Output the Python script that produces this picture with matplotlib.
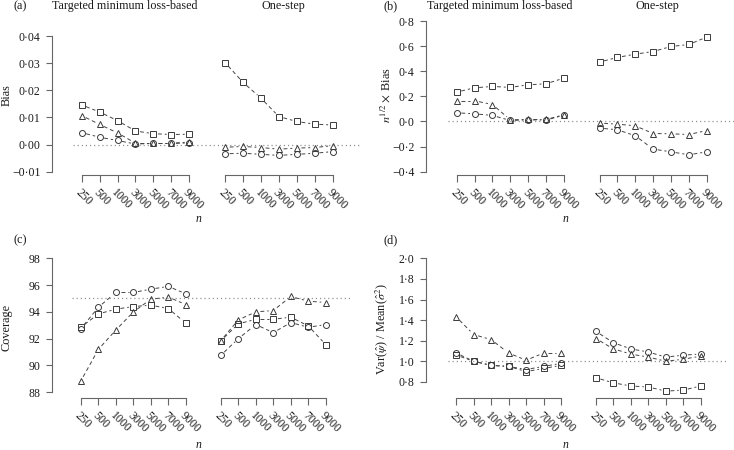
import matplotlib
matplotlib.use("Agg")
import matplotlib.pyplot as plt
import numpy as np
from matplotlib.transforms import blended_transform_factory

plt.rcParams["font.family"] = ["Liberation Serif", "DejaVu Serif"]
plt.rcParams["mathtext.fontset"] = "stix"
plt.rcParams["font.size"] = 8.5

# ---------------- data ----------------
n_labels = ["250", "500", "1000", "3000", "5000", "7000", "9000"]
group_titles = ["Targeted minimum loss-based", "One-step"]

# (a) Bias
bias_tmle_cir = [0.0044, 0.0027, 0.0015, 0.0002, 0.0004, 0.0004, 0.0006]
bias_tmle_tri = [0.0107, 0.0074, 0.0043, 0.0005, 0.0005, 0.0005, 0.0009]
bias_tmle_sq = [0.0146, 0.0120, 0.0088, 0.0050, 0.0040, 0.0037, 0.0038]
bias_os_cir = [-0.0034, -0.0032, -0.0036, -0.0040, -0.0036, -0.0032, -0.0026]
bias_os_tri = [-0.0010, -0.0007, -0.0011, -0.0017, -0.0013, -0.0011, -0.0004]
bias_os_sq = [0.0302, 0.0229, 0.0171, 0.0103, 0.0085, 0.0075, 0.0072]

# (b) sqrt(n) x Bias
sbias_tmle_cir = [0.069, 0.061, 0.048, 0.008, 0.013, 0.011, 0.050]
sbias_tmle_tri = [0.165, 0.165, 0.135, 0.013, 0.016, 0.016, 0.053]
sbias_tmle_sq = [0.234, 0.268, 0.279, 0.271, 0.292, 0.300, 0.345]
sbias_os_cir = [-0.053, -0.066, -0.114, -0.220, -0.242, -0.265, -0.242]
sbias_os_tri = [-0.013, -0.021, -0.035, -0.096, -0.098, -0.104, -0.072]
sbias_os_sq = [0.473, 0.510, 0.536, 0.557, 0.597, 0.613, 0.672]

# (c) Coverage
cov_tmle_cir = [92.75, 94.35, 95.45, 95.45, 95.70, 95.90, 95.35]
cov_tmle_tri = [88.85, 91.20, 92.65, 94.00, 94.95, 95.10, 94.55]
cov_tmle_sq = [92.85, 93.85, 94.20, 94.40, 94.50, 94.25, 93.15]
cov_os_cir = [90.75, 92.00, 93.05, 92.45, 93.20, 92.85, 93.05]
cov_os_tri = [91.85, 93.40, 94.00, 94.10, 95.15, 94.80, 94.70]
cov_os_sq = [91.85, 93.10, 93.45, 93.45, 93.60, 92.95, 91.55]

# (d) Var / Mean(sigma^2)
vr_tmle_cir = [1.08, 1.00, 0.96, 0.95, 0.92, 0.95, 0.98]
vr_tmle_tri = [1.43, 1.26, 1.21, 1.08, 1.01, 1.08, 1.08]
vr_tmle_sq = [1.06, 1.00, 0.96, 0.95, 0.90, 0.93, 0.96]
vr_os_cir = [1.29, 1.18, 1.12, 1.09, 1.04, 1.06, 1.07]
vr_os_tri = [1.22, 1.12, 1.07, 1.04, 1.00, 1.02, 1.05]
vr_os_sq = [0.84, 0.79, 0.76, 0.75, 0.71, 0.72, 0.76]

yt_a = [-0.01, 0.0, 0.01, 0.02, 0.03, 0.04]
yl_a = ["\u22120\u00b701", "0\u00b700", "0\u00b701", "0\u00b702", "0\u00b703", "0\u00b704"]
yt_b = [-0.4, -0.2, 0.0, 0.2, 0.4, 0.6, 0.8]
yl_b = ["\u22120\u00b74", "\u22120\u00b72", "0\u00b70", "0\u00b72", "0\u00b74", "0\u00b76", "0\u00b78"]
yt_c = [88, 90, 92, 94, 96, 98]
yl_c = ["88", "90", "92", "94", "96", "98"]
yt_d = [0.8, 1.0, 1.2, 1.4, 1.6, 1.8, 2.0]
yl_d = ["0\u00b78", "1\u00b70", "1\u00b72", "1\u00b74", "1\u00b76", "1\u00b78", "2\u00b70"]

# ---------------- style ----------------
W, H = 734, 450
PX = 0.72  # points per pixel at dpi 100
AXC = "#666666"
TXC = "#1a1a1a"
LC = "#444444"
MC = "#3a3a3a"
GAP = 4.6  # px gap around points (type = "b")

fig = plt.figure(figsize=(W / 100, H / 100), dpi=100)


def add_px_axes(left, right, top, bottom):
    return fig.add_axes([left / W, 1 - bottom / H, (right - left) / W, (bottom - top) / H])


x1 = np.arange(1, len(n_labels) + 1)
x2 = x1 + len(n_labels) + 1


def type_b(ax, xs, ys, marker, ms):
    pts = ax.transData.transform(np.column_stack([xs, ys]))
    inv = ax.transData.inverted()
    for p0, p1 in zip(pts[:-1], pts[1:]):
        d = p1 - p0
        L = np.hypot(d[0], d[1])
        if L <= 2 * GAP + 1:
            continue
        u = d / L
        q = inv.transform(np.vstack([p0 + u * GAP, p1 - u * GAP]))
        ax.plot(q[:, 0], q[:, 1], color=LC, lw=0.7, dashes=(4, 3),
                dash_capstyle="butt", solid_capstyle="butt")
    ax.plot(xs, ys, ls="none", marker=marker, ms=ms, mfc="none", mec=MC, mew=0.7)


panels = [
    dict(reg=(72.7, 359.6, 15, 175), ylim=(-0.01122, 0.04774), yt=yt_a, yl=yl_a, off=20.7,
         ref=0.0, series=[(bias_tmle_cir, bias_os_cir), (bias_tmle_tri, bias_os_tri), (bias_tmle_sq, bias_os_sq)],
         ylabel="Bias", ylab_pos=(6.5, 95), letter="(a)", letter_pos=(14, 9), nlab=(199, 222.5), titles=True),
    dict(reg=(447.8, 733.5, 15, 175), ylim=(-0.4263, 0.8478), yt=yt_b, yl=yl_b, off=21.8,
         ref=0.0, series=[(sbias_tmle_cir, sbias_os_cir), (sbias_tmle_tri, sbias_os_tri), (sbias_tmle_sq, sbias_os_sq)],
         ylabel=r"$n^{1/2} \times$ Bias", ylab_pos=(386, 95), letter="(b)", letter_pos=(383, 9), nlab=(566, 222.5), titles=True),
    dict(reg=(72.2, 352, 253, 397.5), ylim=(87.6, 98.4), yt=yt_c, yl=yl_c, off=20.2,
         ref=95.0, series=[(cov_tmle_cir, cov_os_cir), (cov_tmle_tri, cov_os_tri), (cov_tmle_sq, cov_os_sq)],
         ylabel="Coverage", ylab_pos=(6.5, 327), letter="(c)", letter_pos=(13, 243.5), nlab=(199, 448), titles=False),
    dict(reg=(447.5, 727, 253, 397.5), ylim=(0.648, 2.052), yt=yt_d, yl=yl_d, off=21.5,
         ref=1.0, series=[(vr_tmle_cir, vr_os_cir), (vr_tmle_tri, vr_os_tri), (vr_tmle_sq, vr_os_sq)],
         ylabel=r"Var($\hat{\psi}$) / Mean($\hat{\sigma}^2$)", ylab_pos=(382, 329), letter="(d)",
         letter_pos=(383, 243.5), nlab=(566, 448), titles=False),
]

markers = [("o", 4.3), ("^", 5.0), ("s", 3.8)]

for p in panels:
    ax = add_px_axes(*p["reg"])
    ax.set_xlim(0.5, 16.5)
    ax.set_ylim(*p["ylim"])
    for s in ["top", "right", "bottom"]:
        ax.spines[s].set_visible(False)
    sp = ax.spines["left"]
    sp.set_position(("outward", p["off"] * PX))
    sp.set_bounds(p["yt"][0], p["yt"][-1])
    sp.set_color(AXC)
    sp.set_linewidth(0.8)
    ax.set_yticks(p["yt"], p["yl"])
    ax.tick_params(axis="y", length=6.5 * PX, width=0.8, color=AXC, pad=5 * PX,
                   labelcolor=TXC, labelsize=8.5)
    ax.set_xticks(np.concatenate([x1, x2]), n_labels + n_labels)
    ax.tick_params(axis="x", length=6.5 * PX, width=0.8, color=AXC, pad=5.3 * PX,
                   labelcolor=TXC, labelsize=8.5)
    for lab in ax.get_xticklabels():
        lab.set_rotation(-45)
        lab.set_rotation_mode("anchor")
        lab.set_ha("left")
        lab.set_va("top")
    tr = blended_transform_factory(ax.transData, ax.transAxes)
    for xs in (x1, x2):
        ax.plot([xs[0], xs[-1]], [0, 0], transform=tr, color=AXC, lw=0.8, clip_on=False)
    ax.axhline(p["ref"], color="#8a8a8a", lw=0.9, dashes=(0.9, 2.4))
    for (tm, os_), (mk, ms) in zip(p["series"], markers):
        type_b(ax, x1, tm, mk, ms)
        type_b(ax, x2, os_, mk, ms)
    fig.text(p["ylab_pos"][0] / W, 1 - p["ylab_pos"][1] / H, p["ylabel"], rotation=90,
             ha="center", va="center", color=TXC, fontsize=8.8)
    fig.text(p["letter_pos"][0] / W, 1 - p["letter_pos"][1] / H, p["letter"],
             ha="left", va="baseline", color=TXC, fontsize=8.8)
    fig.text(p["nlab"][0] / W, 1 - p["nlab"][1] / H, "n", style="italic",
             ha="center", va="baseline", color=TXC, fontsize=8.5)
    if p["titles"]:
        ttr = blended_transform_factory(ax.transData, fig.transFigure)
        ax.text(3.4, 1 - 8.5 / H, group_titles[0], transform=ttr, ha="center",
                va="baseline", color=TXC, fontsize=8.7)
        ax.text(12.25, 1 - 8.5 / H, group_titles[1], transform=ttr, ha="center",
                va="baseline", color=TXC, fontsize=8.7)

fig.savefig("out.png", dpi=100)
